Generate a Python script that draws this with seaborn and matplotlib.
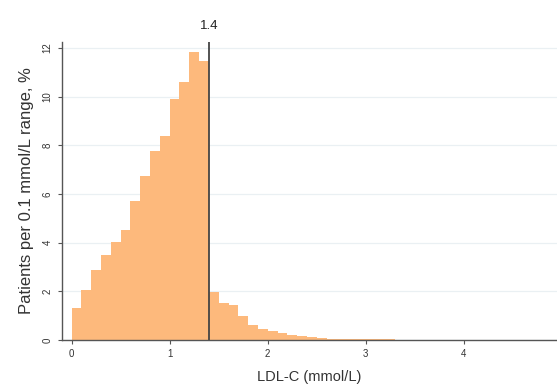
import numpy as np
import pandas as pd
import matplotlib
matplotlib.use('Agg')
import matplotlib.pyplot as plt
import seaborn as sns

# Bin edges start (mmol/L), 0.1 wide bins
bin_start = np.round(np.arange(0, 4.9, 0.1), 2)
# Percentage of patients in each 0.1 mmol/L bin
pct = [1.3, 2.07, 2.88, 3.5, 4.01, 4.53, 5.71, 6.73, 7.78, 8.4,
       9.89, 10.6, 11.83, 11.47, 1.97, 1.54, 1.43, 0.99, 0.63, 0.45,
       0.38, 0.27, 0.19, 0.15, 0.12, 0.08, 0.06, 0.05, 0.04, 0.03,
       0.025, 0.02, 0.02, 0.015, 0.015, 0.012, 0.012, 0.01, 0.01, 0.01,
       0.01, 0.008, 0.008, 0.008, 0.006, 0.006, 0.006, 0.005, 0.005]
threshold = 1.4

df = pd.DataFrame({'ldl': bin_start + 0.05, 'pct': pct})

sns.set_style('white')
plt.rcParams['font.family'] = ['Liberation Sans', 'DejaVu Sans']

fig = plt.figure(figsize=(5.57, 3.89), dpi=100)
ax = fig.add_axes([0.111, 0.126, 0.889, 0.766])

sns.histplot(data=df, x='ldl', weights='pct', binwidth=0.1, binrange=(0, 4.9),
             color='#fdb97c', alpha=1, linewidth=0, ax=ax)

ax.axvline(threshold, color='#444444', lw=1.3)
ax.text(threshold, 1.035, '1.4', transform=ax.get_xaxis_transform(),
        ha='center', va='bottom', fontsize=9.5, color='#222222')

ax.set_xlim(-0.1, 4.95)
ax.set_ylim(0, 12.25)
ax.set_xticks([0, 1, 2, 3, 4])
ax.set_yticks(range(0, 13, 2))
ax.yaxis.grid(True, color='#eaf0f3', lw=0.9)
ax.set_axisbelow(True)

for s in ['top', 'right']:
    ax.spines[s].set_visible(False)
for s in ['left', 'bottom']:
    ax.spines[s].set_color('#555555')
    ax.spines[s].set_linewidth(1.0)

ax.tick_params(axis='both', direction='out', length=3, width=0.8,
               color='#555555', labelsize=7, labelcolor='#333333')
ax.tick_params(axis='x', bottom=True)
ax.tick_params(axis='y', left=True)
for lab in ax.get_yticklabels():
    lab.set_rotation(90)
    lab.set_va('center')

ax.set_xlabel('LDL-C (mmol/L)', fontsize=10.5, color='#333333', labelpad=8)
ax.set_ylabel('Patients per 0.1 mmol/L range, %', fontsize=12, color='#333333',
              labelpad=6)

fig.savefig('out.png', dpi=100)
